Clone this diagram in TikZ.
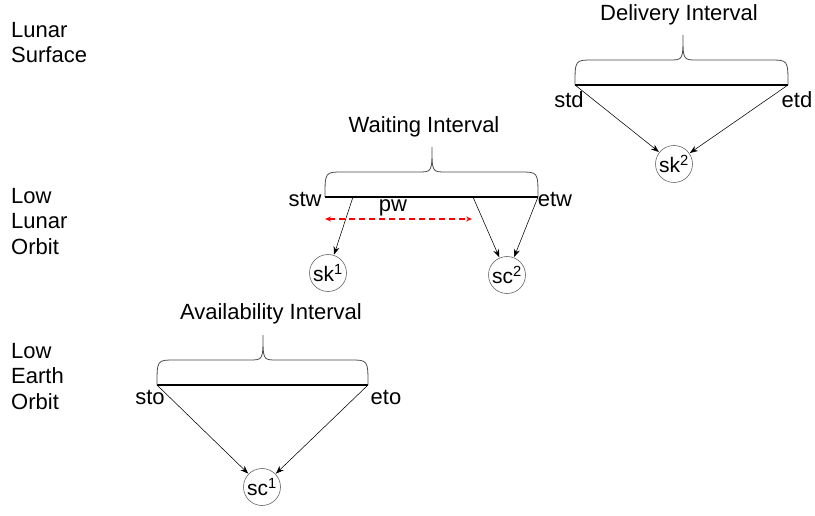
\documentclass[tikz,border=0pt]{standalone}
\usepackage{fontspec}
\setmainfont{Liberation Sans}
\usetikzlibrary{arrows.meta}

% curly brace over an interval bar: #1 left x, #2 right x, #3 tip x, #4 bar y
\newcommand{\intervalbrace}[4]{%
  \draw[bracepath] (#1,#4) .. controls (#1,#4-25) .. (#1+18,#4-25)
    -- (#3-14,#4-25) .. controls (#3,#4-25) .. (#3,#4-50)
    .. controls (#3,#4-25) .. (#3+14,#4-25)
    -- (#2-18,#4-25) .. controls (#2,#4-25) .. (#2,#4);}

\begin{document}
\begin{tikzpicture}[x=1pt,y=-1pt,
  lbl/.style={font=\fontsize{22}{25.5}\selectfont, inner sep=0pt},
  side/.style={lbl, align=left, anchor=north west},
  bar/.style={line width=1.6pt},
  bracepath/.style={draw=black!70, line width=0.8pt},
  arr/.style={-{Stealth[length=8pt,width=6pt]}, line width=0.55pt, shorten >=0.5pt},
  ev/.style={circle, draw=black!60, line width=0.6pt, minimum size=37pt, inner sep=0pt,
    font=\fontsize{21}{23}\selectfont},
  pwarr/.style={{Stealth[length=6pt,width=5pt]}-{Stealth[length=6pt,width=5pt]},
    red, dashed, dash pattern=on 6pt off 4pt, line width=1.2pt}]

\useasboundingbox[fill=white] (0,0) rectangle (815,516);

% level labels
\node[side] (ls)  at (11,22)  {Lunar\\Surface};
\node[side] (llo) at (11,188) {Low\\Lunar\\Orbit};
\node[side] (leo) at (11,343) {Low\\Earth\\Orbit};

% delivery interval (lunar surface)
\coordinate (std) at (575,85);
\coordinate (etd) at (788,85);
\draw[bar] (std) -- (etd);
\intervalbrace{575}{788}{683}{85}
\node[lbl] (dtitle) at (679,15) {Delivery Interval};
\node[lbl] (stdl) at (569,100) {std};
\node[lbl] (etdl) at (797,100) {etd};
\node[ev] (sk2) at (674,164) {sk\textsuperscript{2}};
\draw[arr] (std) -- (sk2);
\draw[arr] (etd) -- (sk2);

% waiting interval (low lunar orbit)
\coordinate (stw) at (325,197);
\coordinate (etw) at (538,197);
\coordinate (wa) at (353,197);
\coordinate (wb) at (473,197);
\draw[bar] (stw) -- (etw);
\intervalbrace{325}{538}{432}{197}
\node[lbl] (wtitle) at (424,127) {Waiting Interval};
\node[lbl] (stwl) at (305,199) {stw};
\node[lbl] (etwl) at (555,199) {etw};
\node[lbl] (pwl) at (393,208) {pw};
\coordinate (pwa) at (325,219);
\coordinate (pwb) at (472,219);
\draw[pwarr] (pwa) -- (pwb);
\node[ev] (sk1) at (328,273) {sk\textsuperscript{1}};
\node[ev] (sc2) at (507,275) {sc\textsuperscript{2}};
\draw[arr] (wa) -- (sk1);
\draw[arr] (wb) -- (sc2);
\draw[arr] (etw) -- (sc2);

% availability interval (low earth orbit)
\coordinate (sto) at (157,385);
\coordinate (eto) at (368,385);
\draw[bar] (sto) -- (eto);
\intervalbrace{157}{368}{263}{385}
\node[lbl] (atitle) at (271,314) {Availability Interval};
\node[lbl] (stol) at (150,397) {sto};
\node[lbl] (etol) at (386,397) {eto};
\node[ev] (sc1) at (262,487) {sc\textsuperscript{1}};
\draw[arr] (sto) -- (sc1);
\draw[arr] (eto) -- (sc1);
\end{tikzpicture}
\end{document}
